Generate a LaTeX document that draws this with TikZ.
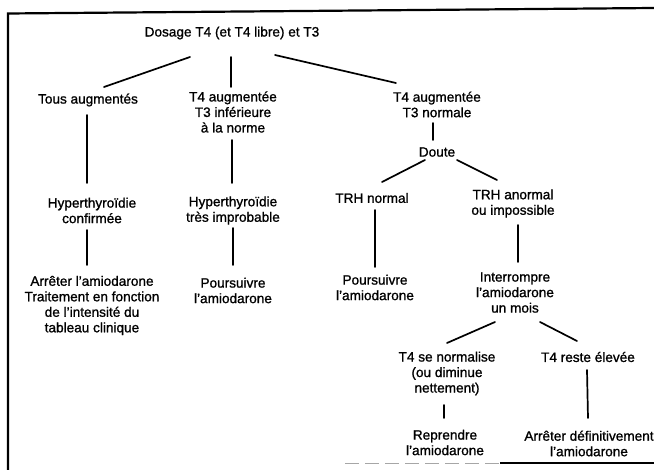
\documentclass[tikz,border=0pt]{standalone}
\usepackage{fontspec}
\setmainfont{Liberation Sans}[FakeBold=1.1]
\usetikzlibrary{calc}
\begin{document}
\begin{tikzpicture}[x=1pt,y=-1pt,
  lbl/.style={align=center,inner sep=0pt,font=\fontsize{13.6}{15.5}\selectfont},
  conn/.style={line width=1.7pt,line cap=round},
  frame/.style={line width=2.2pt}]
\useasboundingbox (0,0) rectangle (654,470);
% frame
\draw[frame] (8,470) -- (8,13.5) -- (654,8);
\draw[gray!70,line width=0.7pt,dash pattern=on 14pt off 6pt] (345,463) -- (500,463);
\draw[line width=1.2pt] (500,463) -- (654,463);
% nodes
\node[lbl] (dos) at (232,33) {Dosage T4 (et T4 libre) et T3};
\node[lbl] (tous) at (88,100) {Tous augmentés};
\node[lbl] (t4inf) at (233,112) {T4 augmentée\\T3 inférieure\\à la norme};
\node[lbl] (t4norm) at (437,104.5) {T4 augmentée\\T3 normale};
\node[lbl] (doute) at (437,152) {Doute};
\node[lbl] (hyp1) at (92,210.5) {Hyperthyroïdie\\confirmée};
\node[lbl] (hyp2) at (233,210.5) {Hyperthyroïdie\\très improbable};
\node[lbl] (arr) at (92,305.5) {Arrêter l'amiodarone\\Traitement en fonction\\de l'intensité du\\tableau clinique};
\node[lbl] (pours1) at (233,290.5) {Poursuivre\\l'amiodarone};
\node[lbl] (trhn) at (372,198) {TRH normal};
\node[lbl] (trha) at (513,203.5) {TRH anormal\\ou impossible};
\node[lbl] (pours2) at (375,287.5) {Poursuivre\\l'amiodarone};
\node[lbl] (interr) at (515,292.5) {Interrompre\\l'amiodarone\\un mois};
\node[lbl] (norm) at (447,373.5) {T4 se normalise\\(ou diminue\\nettement)};
\node[lbl] (reste) at (588,357) {T4 reste élevée};
\node[lbl] (repr) at (445,442.5) {Reprendre\\l'amiodarone};
\node[lbl] (arrdef) at (589,443.5) {Arrêter définitivement\\l'amiodarone};
% connectors
\draw[conn] ($(dos)+(-42,24)$) -- ($(tous)+(16,-13)$);
\draw[conn] ($(dos)+(-1,24)$) -- ($(t4inf)+(-2,-25)$);
\draw[conn] ($(dos)+(43,22)$) -- ($(t4norm)+(-41,-21.5)$);
\draw[conn] ($(tous)+(-1,15)$) -- ($(hyp1)+(-5,-27.5)$);
\draw[conn] ($(t4inf)+(-1,28)$) -- ($(hyp2)+(-1,-27.5)$);
\draw[conn] ($(hyp1)+(-5,19.5)$) -- ($(arr)+(-5,-40.5)$);
\draw[conn] ($(hyp2)+(0,17.5)$) -- ($(pours1)+(0,-25.5)$);
\draw[conn] ($(t4norm)+(-4,18.5)$) -- ($(doute)+(-4,-12)$);
\draw[conn] ($(doute)+(-12,8)$) -- ($(trhn)+(10,-16)$);
\draw[conn] ($(doute)+(20,8)$) -- ($(trha)+(-16,-23.5)$);
\draw[conn] ($(trhn)+(3,12)$) -- ($(pours2)+(0,-20.5)$);
\draw[conn] ($(trha)+(5,21.5)$) -- ($(interr)+(3,-30.5)$);
\draw[conn] ($(interr)+(-20,29.5)$) -- ($(norm)+(0,-30.5)$);
\draw[conn] ($(interr)+(25,29.5)$) -- ($(reste)+(-11,-16)$);
\draw[conn] ($(norm)+(-3,31.5)$) -- ($(repr)+(-1,-24.5)$);
\draw[conn] ($(reste)+(-1,13)$) -- ($(arrdef)+(-1,-25.5)$);
\end{tikzpicture}
\end{document}
